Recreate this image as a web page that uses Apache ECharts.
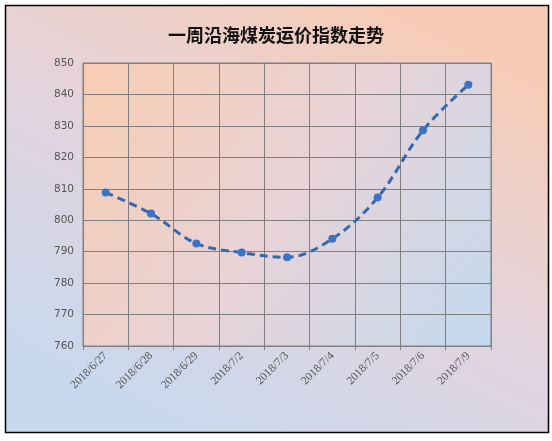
<!DOCTYPE html>
<html>
<head>
<meta charset="utf-8">
<script src="https://cdn.jsdelivr.net/npm/echarts@6/dist/echarts.min.js"></script>
<style>html,body{margin:0;padding:0;background:#fff;}#c{width:552px;height:441px;}</style>
</head>
<body>
<div id="c"></div>
<script>
const title = '一周沿海煤炭运价指数走势';
const categories = ['2018/6/27','2018/6/28','2018/6/29','2018/7/2','2018/7/3','2018/7/4','2018/7/5','2018/7/6','2018/7/9'];
const values = [808.8, 802.1, 792.6, 789.7, 788.2, 794.1, 807.2, 828.6, 843.1];
const yMin = 760, yMax = 850, yStep = 10;

const chart = echarts.init(document.getElementById('c'), null, {renderer:'canvas'});
chart.setOption({
  animation: false,
  backgroundColor: '#ffffff',
  graphic: [{
    type: 'rect', z: -10, silent: true,
    shape: {x: 5.5, y: 5.5, width: 543, height: 427},
    style: {
      fill: {type:'linear', x:0.7, y:0, x2:0.3, y2:1, colorStops:[
        {offset:0, color:'#f7ccb6'}, {offset:0.5, color:'#e3d4de'}, {offset:1, color:'#c8d8ee'}]},
      stroke: '#000', lineWidth: 1.5
    }
  }],
  title: {
    text: title, left: 'center', top: 21,
    textStyle: {fontFamily: '"Noto Sans CJK SC"', fontSize: 18, fontWeight: 'bold', color: '#111'}
  },
  grid: {
    left: 83, right: 61, top: 63, bottom: 95, show: true,
    backgroundColor: {type:'linear', x:0, y:0, x2:1, y2:1, colorStops:[
      {offset:0, color:'#f8ccb0'}, {offset:0.5, color:'#e8d3d8'}, {offset:1, color:'#c2d9ef'}]},
    borderColor: '#808080', borderWidth: 1
  },
  xAxis: {
    type: 'category', data: categories, boundaryGap: true,
    axisLine: {lineStyle: {color: '#808080'}},
    axisTick: {show: true, alignWithLabel: false, length: 4, lineStyle: {color: '#808080'}},
    splitLine: {show: true, interval: 0, lineStyle: {color: '#808080'}},
    axisLabel: {interval: 0, rotate: 45, margin: 8, fontFamily: '"Liberation Serif"', fontSize: 11.5, color: '#555'}
  },
  yAxis: {
    type: 'value', min: yMin, max: yMax, interval: yStep,
    axisLine: {show: true, lineStyle: {color: '#808080'}},
    axisTick: {show: false},
    splitLine: {lineStyle: {color: '#808080'}},
    axisLabel: {margin: 9, fontFamily: '"DejaVu Sans"', fontSize: 10.5, color: '#555'}
  },
  series: [{
    type: 'line', data: values, smooth: 0.35,
    symbol: 'circle', symbolSize: 8,
    itemStyle: {color: '#3a74c6'},
    lineStyle: {color: '#3569ad', width: 3, type: [8, 5]}
  }]
});
</script>
</body>
</html>
